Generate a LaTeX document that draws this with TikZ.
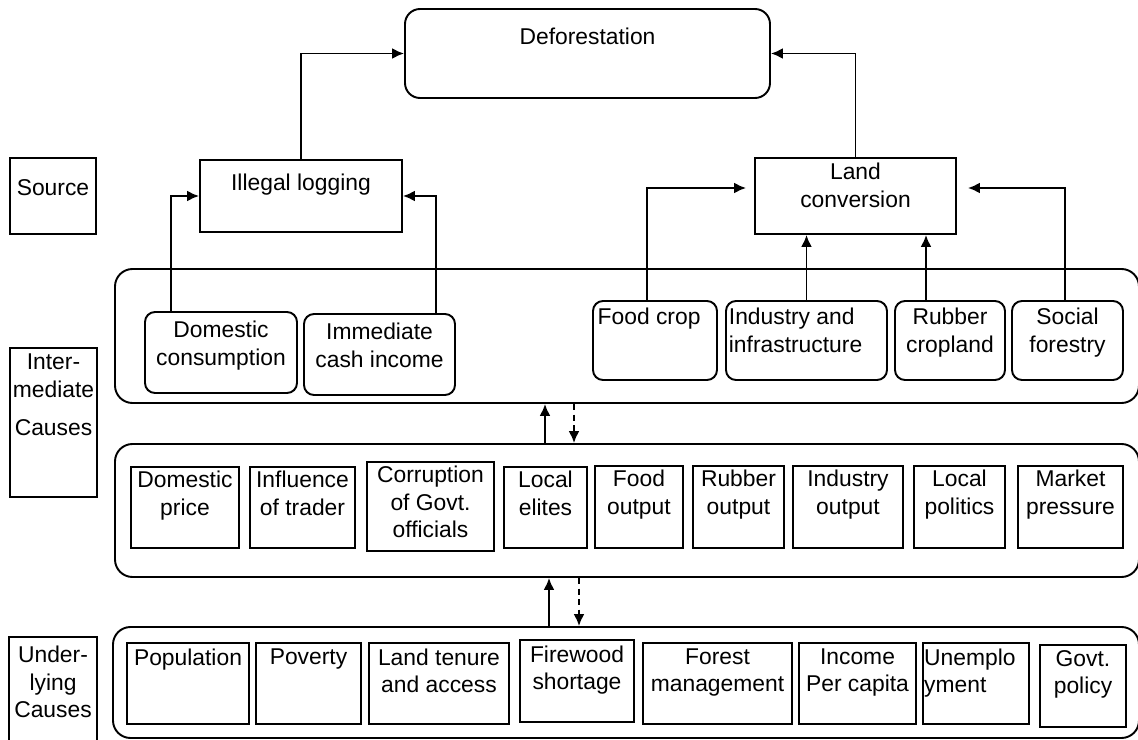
\documentclass[tikz,border=0pt]{standalone}
\usepackage{fontspec}
\setmainfont{Liberation Sans}
\usetikzlibrary{arrows.meta,positioning,fit}

\begin{document}
\begin{tikzpicture}[x=0.2mm,y=-0.2mm,
    font=\fontsize{13}{15.6}\selectfont,
    box/.style={draw,line width=1.1pt,inner sep=0pt},
    rbox/.style={box,rounded corners=2mm},
    group/.style={box,rounded corners=3.5mm},
    txt/.style={align=center,inner sep=1pt,anchor=north},
    ltxt/.style={align=left,inner sep=1pt,anchor=north west},
    arr/.style={-{Latex[length=2.4mm,width=2.2mm]},line width=1.1pt},
    darr/.style={arr,dash pattern=on 3.5pt off 2.5pt}]

\useasboundingbox (0,0) rectangle (1138,740);

% Groups
\node[group,fit={(115,269) (1139,403)}] (inter) {};
\node[group,fit={(115,444) (1139,577)}] (mid) {};
\node[group,fit={(113,627) (1139,738)}] (under) {};

% Level labels
\node[box,fit={(10,158) (96,234)}] (src) {Source};
\node[box,fit={(10,348) (97,497)},
    label={[txt,yshift=-2.8pt]north:Inter-\\mediate\\[6pt]Causes}] (interlab) {};
\node[box,fit={(9,637) (97,742)},
    label={[txt,yshift=-4.6pt]north:Under-\\lying\\Causes}] (underlab) {};

% Deforestation and sources
\node[rbox,rounded corners=3mm,fit={(405,9) (770,98)},
    label={[txt,yshift=-10.2pt]north:Deforestation}] (defor) {};
\node[box,fit={(200,160) (402,232)},
    label={[txt,yshift=-7.4pt]north:Illegal logging}] (ill) {};
\node[box,fit={(755,158) (956,234)},
    label={[txt,yshift=-2.3pt]north:Land\\conversion}] (land) {};

% Intermediate causes
\node[rbox,fit={(145,312) (297,393)},
    label={[txt,yshift=-4.6pt]north:Domestic\\consumption}] (dom) {};
\node[rbox,fit={(304,314) (455,395)},
    label={[txt,yshift=-4.6pt]north:Immediate\\cash income}] (imm) {};
\node[rbox,fit={(593,301) (717,380)},
    label={[ltxt,yshift=-3.4pt,xshift=2pt]north west:Food crop}] (fc) {};
\node[rbox,fit={(726,301) (887,380)},
    label={[ltxt,yshift=-3.4pt,xshift=1pt]north west:Industry and\\infrastructure}] (ind) {};
\node[rbox,fit={(895,301) (1005,380)},
    label={[txt,yshift=-3.4pt]north:Rubber\\cropland}] (rub) {};
\node[rbox,fit={(1012,301) (1123,380)},
    label={[txt,yshift=-3.4pt]north:Social\\forestry}] (soc) {};

% Middle row
\node[box,fit={(131,467) (239,548)},
    label={[txt,yshift=-1.7pt]north:Domestic\\price}] (dprice) {};
\node[box,fit={(250,467) (355,548)},
    label={[txt,yshift=-1.7pt]north:Influence\\of trader}] (infl) {};
\node[box,fit={(367,462) (494,551)},
    label={[txt,yshift=-1.7pt]north:Corruption\\of Govt.\\officials}] (corr) {};
\node[box,fit={(504,467) (587,548)},
    label={[txt,yshift=-1.7pt]north:Local\\elites}] (elites) {};
\node[box,fit={(595,466) (683,548)},
    label={[txt,yshift=-1.7pt]north:Food\\output}] (fout) {};
\node[box,fit={(693,466) (784,548)},
    label={[txt,yshift=-1.7pt]north:Rubber\\output}] (rout) {};
\node[box,fit={(793,466) (903,548)},
    label={[txt,yshift=-1.7pt]north:Industry\\output}] (iout) {};
\node[box,fit={(914,466) (1005,548)},
    label={[txt,yshift=-1.7pt]north:Local\\politics}] (lpol) {};
\node[box,fit={(1018,466) (1123,548)},
    label={[txt,yshift=-1.7pt]north:Market\\pressure}] (mkt) {};

% Underlying causes
\node[box,fit={(127,643) (249,724)},
    label={[txt,yshift=-2.5pt]north:Population}] (pop) {};
\node[box,fit={(256,643) (361,724)},
    label={[txt,yshift=-2.5pt]north:Poverty}] (pov) {};
\node[box,fit={(369,643) (509,724)},
    label={[txt,yshift=-2.5pt]north:Land tenure\\and access}] (lten) {};
\node[box,fit={(520,640) (634,722)},
    label={[txt,yshift=-2.5pt]north:Firewood\\shortage}] (fire) {};
\node[box,fit={(643,643) (792,724)},
    label={[txt,yshift=-2.5pt]north:Forest\\management}] (fman) {};
\node[box,fit={(799,643) (916,724)},
    label={[txt,yshift=-2.5pt]north:Income\\Per capita}] (inc) {};
\node[box,fit={(923,643) (1029,724)},
    label={[ltxt,yshift=-2.5pt]north west:Unemplo\\yment}] (unemp) {};
\node[box,fit={(1040,645) (1126,727)},
    label={[txt,yshift=-2.5pt]north:Govt.\\policy}] (gpol) {};

% Arrows to deforestation
\draw[arr] (ill.north) |- (defor.west);
\draw[arr] (land.north) |- (defor.east);

% Arrows to sources
\draw[arr] (dom.north -| 171,0) |- (ill.west);
\draw[arr] (imm.north -| 436,0) |- (ill.east);
\draw[arr,shorten >=1.6mm] (fc.north -| 647,0) |- (land.west |- 0,188);
\draw[arr] (ind.north) -- (ind.north |- land.south);
\draw[arr] (rub.north -| 926,0) -- (land.south -| 926,0);
\draw[arr,shorten >=2.2mm] (soc.north -| 1065,0) |- (land.east |- 0,188);

% Links between levels
\draw[arr] (mid.north -| 545,0) -- (inter.south -| 545,0);
\draw[darr] (inter.south -| 574,0) -- (mid.north -| 574,0);
\draw[arr] (under.north -| 549,0) -- (mid.south -| 549,0);
\draw[darr] (mid.south -| 579,0) -- (under.north -| 579,0);

\end{tikzpicture}
\end{document}
